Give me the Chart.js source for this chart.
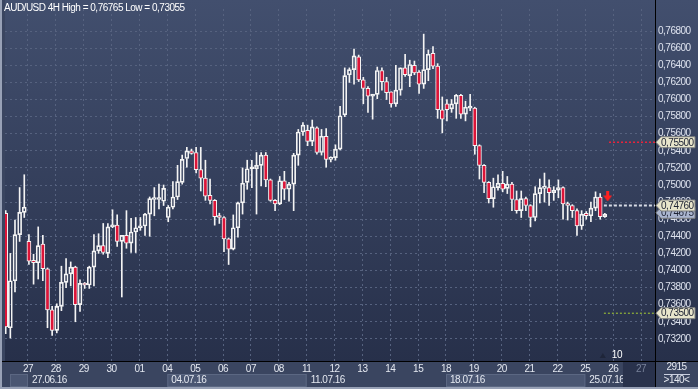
<!DOCTYPE html>
<html>
<head>
<meta charset="utf-8">
<script src="https://cdn.jsdelivr.net/npm/chart.js@4.4.0/dist/chart.umd.min.js"></script>
<style>
    html, body { margin: 0; padding: 0; background: #3a4560; }
    canvas { display: block; }
</style>
</head>
<body>
<canvas id="chart" width="698" height="389"></canvas>
<script>
(function () {

    // Bar 0 is the first 4H bar of 27.06.16, the chart shows a few bars of the week before.
    var START_INDEX = -5;

    var OPEN = [
        0.7467, 0.7333, 0.7388, 0.7442, 0.7468,
        0.7434, 0.7412, 0.7409, 0.7431, 0.7402, 0.7354, 0.7330, 0.7358, 0.7386, 0.7396,
        0.7404, 0.7360, 0.7385, 0.7383, 0.7404, 0.7423, 0.7429, 0.7420, 0.7451, 0.7453,
        0.7434, 0.7441, 0.7432, 0.7445, 0.7450, 0.7452, 0.7466, 0.7483, 0.7483, 0.7481,
        0.7462, 0.7474, 0.7486, 0.7503, 0.7531, 0.7540, 0.7538, 0.7518, 0.7508, 0.7488,
        0.7482, 0.7463, 0.7462, 0.7437, 0.7425, 0.7450, 0.7479, 0.7503, 0.7519, 0.7519,
        0.7523, 0.7535, 0.7506, 0.7482, 0.7478, 0.7505, 0.7495, 0.7501, 0.7535, 0.7562,
        0.7564, 0.7551, 0.7567, 0.7538, 0.7557, 0.7530, 0.7532, 0.7542, 0.7582, 0.7629,
        0.7635, 0.7650, 0.7623, 0.7613, 0.7604, 0.7606, 0.7634, 0.7621, 0.7609, 0.7595,
        0.7611, 0.7637, 0.7628, 0.7640, 0.7632, 0.7618, 0.7635, 0.7654, 0.7639, 0.7588,
        0.7595, 0.7589, 0.7595, 0.7605, 0.7583, 0.7590, 0.7590, 0.7546, 0.7523, 0.7503,
        0.7484, 0.7497, 0.7502, 0.7496, 0.7501, 0.7483, 0.7470, 0.7484, 0.7476, 0.7462,
        0.7490, 0.7496, 0.7497, 0.7491, 0.7494, 0.7497, 0.7478, 0.7476, 0.7470, 0.7452,
        0.7467, 0.7464, 0.7473, 0.7486, 0.7463
    ];
    var HIGH = [
        0.7470, 0.7420, 0.7459, 0.7497, 0.7512,
        0.7442, 0.7419, 0.7451, 0.7441, 0.7403, 0.7358, 0.7361, 0.7405, 0.7414, 0.7410,
        0.7405, 0.7389, 0.7386, 0.7405, 0.7442, 0.7443, 0.7455, 0.7455, 0.7471, 0.7465,
        0.7441, 0.7470, 0.7461, 0.7462, 0.7462, 0.7467, 0.7486, 0.7497, 0.7501, 0.7500,
        0.7476, 0.7504, 0.7523, 0.7535, 0.7544, 0.7542, 0.7544, 0.7544, 0.7529, 0.7507,
        0.7483, 0.7467, 0.7463, 0.7438, 0.7465, 0.7480, 0.7520, 0.7529, 0.7529, 0.7538,
        0.7538, 0.7538, 0.7507, 0.7483, 0.7510, 0.7516, 0.7503, 0.7537, 0.7565, 0.7573,
        0.7570, 0.7576, 0.7568, 0.7565, 0.7566, 0.7533, 0.7547, 0.7592, 0.7637, 0.7637,
        0.7659, 0.7652, 0.7626, 0.7615, 0.7605, 0.7638, 0.7637, 0.7626, 0.7609, 0.7640,
        0.7637, 0.7653, 0.7646, 0.7645, 0.7634, 0.76765, 0.7658, 0.7662, 0.7642, 0.7603,
        0.7600, 0.7600, 0.7606, 0.7606, 0.7598, 0.7606, 0.7591, 0.7547, 0.7524, 0.7504,
        0.7508, 0.7512, 0.7516, 0.7510, 0.7503, 0.7493, 0.7493, 0.7486, 0.7477, 0.7498,
        0.7507, 0.7514, 0.7506, 0.7498, 0.7506, 0.7498, 0.7480, 0.7477, 0.7472, 0.7470,
        0.7469, 0.7480, 0.7492, 0.7490, 0.7467
    ];
    var LOW = [
        0.7326, 0.7321, 0.7375, 0.7434, 0.7462,
        0.7407, 0.7384, 0.7390, 0.7388, 0.7333, 0.7324, 0.7327, 0.7353, 0.7380, 0.7382,
        0.7340, 0.7352, 0.7379, 0.7379, 0.7382, 0.7420, 0.7419, 0.7415, 0.7450, 0.7428,
        0.7369, 0.7426, 0.7421, 0.7421, 0.7447, 0.7441, 0.7440, 0.7464, 0.7472, 0.7476,
        0.7457, 0.7472, 0.7483, 0.7501, 0.7521, 0.7536, 0.7514, 0.7493, 0.7482, 0.7478,
        0.7453, 0.7455, 0.7422, 0.7407, 0.7424, 0.7439, 0.7466, 0.7495, 0.7497, 0.7466,
        0.7499, 0.7498, 0.7481, 0.7470, 0.7477, 0.7483, 0.7481, 0.7470, 0.7523, 0.7558,
        0.7546, 0.7546, 0.7536, 0.7535, 0.7521, 0.7527, 0.7529, 0.7541, 0.7580, 0.7620,
        0.7618, 0.7621, 0.7595, 0.7585, 0.7577, 0.7601, 0.7611, 0.7600, 0.7591, 0.7592,
        0.7605, 0.7627, 0.7615, 0.7629, 0.7607, 0.7613, 0.7622, 0.7636, 0.7578, 0.7561,
        0.7575, 0.7585, 0.7578, 0.7578, 0.7575, 0.7587, 0.7536, 0.7507, 0.7491, 0.7479,
        0.7474, 0.7494, 0.7492, 0.7490, 0.7470, 0.7467, 0.7462, 0.7470, 0.7451, 0.7458,
        0.7479, 0.7480, 0.7476, 0.7482, 0.7485, 0.7460, 0.7459, 0.7462, 0.7441, 0.7448,
        0.7460, 0.7457, 0.7470, 0.7460, 0.7462
    ];
    var CLOSE = [
        0.7334, 0.7388, 0.7442, 0.7468, 0.7474,
        0.7411, 0.7409, 0.7429, 0.7402, 0.7354, 0.7330, 0.7358, 0.7386, 0.7396, 0.7404,
        0.7360, 0.7385, 0.7383, 0.7404, 0.7423, 0.7429, 0.7421, 0.7451, 0.7453, 0.7434,
        0.7441, 0.7432, 0.7445, 0.7450, 0.7452, 0.7466, 0.7484, 0.7485, 0.7485, 0.7496,
        0.7474, 0.7486, 0.7504, 0.7530, 0.7540, 0.7537, 0.7518, 0.7508, 0.7487, 0.7482,
        0.7463, 0.7462, 0.7437, 0.7425, 0.7450, 0.7479, 0.7502, 0.7519, 0.7520, 0.7523,
        0.7535, 0.7506, 0.7482, 0.7478, 0.7505, 0.7495, 0.7501, 0.7535, 0.7562, 0.7570,
        0.7551, 0.7568, 0.7538, 0.7557, 0.7530, 0.7532, 0.7542, 0.7581, 0.7628, 0.7635,
        0.7651, 0.7623, 0.7613, 0.7604, 0.7606, 0.7634, 0.7621, 0.7608, 0.7595, 0.7611,
        0.7637, 0.7629, 0.7641, 0.7631, 0.7618, 0.7635, 0.7653, 0.7639, 0.7588, 0.7577,
        0.7588, 0.7595, 0.7605, 0.7583, 0.7591, 0.7591, 0.7546, 0.7523, 0.7503, 0.7484,
        0.7498, 0.7502, 0.7495, 0.7501, 0.7483, 0.7470, 0.7484, 0.7476, 0.7462, 0.7490,
        0.7497, 0.7498, 0.7491, 0.7494, 0.7497, 0.7478, 0.7476, 0.7470, 0.7452, 0.7466,
        0.7464, 0.7473, 0.7486, 0.7463, 0.7466
    ];

    var DAY_LABELS = ['27', '28', '29', '30', '01', '04', '05', '06', '07', '08', '11', '12',
        '13', '14', '15', '18', '19', '20', '21', '22', '25', '26', '27'];
    var WEEK_DAYS = [-5, 0, 5, 10, 15, 20];
    var WEEK_LABELS = ['20.06.16', '27.06.16', '04.07.16', '11.07.16', '18.07.16', '25.07.16'];
    var Y_TICKS = [0.732, 0.734, 0.736, 0.738, 0.740, 0.742, 0.744, 0.746, 0.748, 0.750,
        0.752, 0.754, 0.756, 0.758, 0.760, 0.762, 0.764, 0.766, 0.768];

    // Horizontal levels on the right edge, and the current bid.
    var LEVELS = [0.7550, 0.7476, 0.7350];
    var LEVEL_FROM = [124.9, 123.8, 123.8];
    var LEVEL_COLORS = ['#e8243c', '#d6dae4', '#a6cf34'];
    var LEVEL_DASH = [[2, 2], [3, 2], [2, 2]];
    var LEVEL_WIDTH = [1.5, 2, 1];
    var BID = 0.74675;
    var SIGNAL = { x: 124.6, y: 0.74866 };
    var MARK_X = 124;

    var TITLE = 'AUD/USD 4H High = 0,76765 Low = 0,73055';
    var BARS_PER_DAY = 6;
    var DAY_SHIFT = -0.2;
    var X_MIN = -5.15, X_MAX = 134.8;
    var Y_MIN = 0.72941, Y_MAX = 0.77059;
    var FUTURE_START = 127.9;

    // The terminal font is a narrow one; a tightened Liberation Sans stands in for it.
    var FONT = "'Liberation Sans', Arial, sans-serif";
    var FONT_SIZE = 10;
    var TRACKING = '-0.5px';
    var BEAR = '#dc1438';
    var WHITE = '#f4f4f4';
    var GRID = '#56627f';

    /**
     * Position of a day boundary on the bar axis.
     */
    function dayPos(day) {
        return day * BARS_PER_DAY + DAY_SHIFT;
    }

    function fmt(v) {
        return v.toFixed(5).replace('.', ',');
    }

    /**
     * Builds the floating bars for bodies and wicks.
     */
    var bodies = [], bodyColors = [], upper = [], lower = [];
    var i, x, top, bottom;
    for (i = 0; i < OPEN.length; i++) {
        x = START_INDEX + i;
        top = Math.max(OPEN[i], CLOSE[i]);
        bottom = Math.min(OPEN[i], CLOSE[i]);
        bodies.push({ x: x, y: [OPEN[i], CLOSE[i]] });
        bodyColors.push(CLOSE[i] < OPEN[i] ? BEAR : 'rgba(0,0,0,0)');
        upper.push({ x: x, y: [top, HIGH[i]] });
        lower.push({ x: x, y: [LOW[i], bottom] });
    }

    // Small red sell arrow used as a point style.
    var arrow = document.createElement('canvas');
    arrow.width = 9;
    arrow.height = 10;
    var a = arrow.getContext('2d');
    a.fillStyle = '#ff2020';
    a.fillRect(3, 0, 3, 5);
    a.beginPath();
    a.moveTo(0, 4);
    a.lineTo(9, 4);
    a.lineTo(4.5, 10);
    a.closePath();
    a.fill();

    var datasets = [{
        type: 'line',
        data: [SIGNAL],
        showLine: false,
        pointStyle: arrow,
        order: 0
    }];
    for (i = 0; i < LEVELS.length; i++) {
        datasets.push({
            type: 'line',
            data: [{ x: LEVEL_FROM[i], y: LEVELS[i] }, { x: X_MAX, y: LEVELS[i] }],
            borderColor: LEVEL_COLORS[i],
            borderWidth: LEVEL_WIDTH[i],
            borderDash: LEVEL_DASH[i],
            pointRadius: 0,
            order: 1
        });
    }
    datasets.push({
        data: bodies,
        backgroundColor: bodyColors,
        borderColor: WHITE,
        borderWidth: 1,
        borderSkipped: false,
        barThickness: 4,
        minBarLength: 2,
        grouped: false,
        order: 2
    });
    datasets.push({
        data: upper, backgroundColor: WHITE, borderWidth: 0,
        barThickness: 1, grouped: false, order: 3
    });
    datasets.push({
        data: lower, backgroundColor: WHITE, borderWidth: 0,
        barThickness: 1, grouped: false, order: 3
    });

    function tag(ctx, x, y, text, bg) {
        ctx.beginPath();
        ctx.moveTo(x, y);
        ctx.lineTo(x + 5, y - 5.5);
        ctx.lineTo(x + 39, y - 5.5);
        ctx.lineTo(x + 39, y + 5.5);
        ctx.lineTo(x + 5, y + 5.5);
        ctx.closePath();
        ctx.fillStyle = bg;
        ctx.fill();
        ctx.strokeStyle = '#7d7f80';
        ctx.lineWidth = 1;
        ctx.stroke();
        ctx.fillStyle = '#1d2233';
        ctx.fillText(text, x + 5, y + 0.5);
    }

    function setText(ctx) {
        ctx.font = FONT_SIZE + 'px ' + FONT;
        ctx.letterSpacing = TRACKING;
        ctx.textBaseline = 'middle';
        ctx.textAlign = 'left';
    }

    /**
     * Panels, week strip, price tags and captions around the plot.
     */
    var decor = {
        id: 'decor',
        beforeDraw: function (chart) {
            var ctx = chart.ctx, area = chart.chartArea, xs = chart.scales.x;
            var grad, w, x0, x1, bx, stripTop = area.bottom + 13;
            ctx.save();
            ctx.fillStyle = '#3a4560';
            ctx.fillRect(0, 0, chart.width, chart.height);
            grad = ctx.createLinearGradient(0, 0, 0, area.bottom);
            grad.addColorStop(0, '#424f6e');
            grad.addColorStop(1, '#27304a');
            ctx.fillStyle = grad;
            ctx.fillRect(area.left, 0, chart.width - area.left, area.bottom);

            setText(ctx);
            for (w = 0; w < WEEK_LABELS.length; w++) {
                x0 = xs.getPixelForValue(dayPos(WEEK_DAYS[w]));
                x1 = xs.getPixelForValue(dayPos(WEEK_DAYS[w] + 5));
                if (w % 2 === 0) {
                    bx = Math.max(x0, area.left + 5);
                    ctx.fillStyle = '#4a5672';
                    ctx.fillRect(bx, stripTop, x1 - bx, 13);
                    ctx.strokeStyle = '#5b6782';
                    ctx.strokeRect(bx + 0.5, stripTop + 0.5, x1 - bx - 1, 12);
                }
                if (x0 >= area.left) {
                    ctx.fillStyle = '#e4e8f0';
                    ctx.fillText(WEEK_LABELS[w], x0 + 4, stripTop + 6.5);
                }
            }
            x0 = xs.getPixelForValue(FUTURE_START);
            ctx.fillStyle = '#29324c';
            ctx.fillRect(x0, area.bottom, area.right - x0, chart.height - area.bottom - 2);
            ctx.restore();
            // tick labels drawn by the scales pick up the tighter tracking too
            ctx.letterSpacing = TRACKING;
        },
        afterDraw: function (chart) {
            var ctx = chart.ctx, area = chart.chartArea, xs = chart.scales.x, ys = chart.scales.y;
            var mx, my;
            ctx.save();
            ctx.fillStyle = '#000000';
            ctx.fillRect(area.right, 0, 1, chart.height);
            ctx.fillRect(0, area.bottom, chart.width, 1);
            ctx.fillStyle = '#98a1b6';
            ctx.fillRect(0, 0, 2, chart.height);
            ctx.fillRect(0, chart.height - 2, chart.width, 2);

            setText(ctx);
            ctx.fillStyle = '#ffffff';
            ctx.fillText(TITLE, 4, 8);

            tag(ctx, area.right + 1, ys.getPixelForValue(LEVELS[0]), fmt(LEVELS[0]), '#e8e5cb');
            tag(ctx, area.right + 1, ys.getPixelForValue(BID), fmt(BID), '#aab5cf');
            tag(ctx, area.right + 1, ys.getPixelForValue(LEVELS[1]), fmt(LEVELS[1]), '#e8e5cb');
            tag(ctx, area.right + 1, ys.getPixelForValue(LEVELS[2]), fmt(LEVELS[2]), '#e8e5cb');

            // bar counter near the bottom
            mx = xs.getPixelForValue(MARK_X);
            my = area.bottom - 6;
            ctx.fillStyle = '#1e2539';
            ctx.beginPath();
            ctx.moveTo(mx - 5, my + 3);
            ctx.lineTo(mx + 1, my + 3);
            ctx.lineTo(mx - 2, my - 2);
            ctx.closePath();
            ctx.fill();
            ctx.fillStyle = '#ffffff';
            ctx.fillText('10', mx + 7, my);

            // corner box
            ctx.textAlign = 'center';
            ctx.fillStyle = '#e4e8f0';
            ctx.fillText('2915', (area.right + chart.width) / 2, area.bottom + 6.5);
            ctx.fillText('>140<', (area.right + chart.width) / 2, area.bottom + 19.5);
            ctx.fillStyle = '#c9cfdf';
            ctx.fillRect(area.right + 9, area.bottom + 13, 26, 1);
            ctx.restore();
        }
    };

    Chart.defaults.font.family = FONT;
    Chart.defaults.font.size = FONT_SIZE;

    new Chart(document.getElementById('chart'), {
        type: 'bar',
        data: { datasets: datasets },
        options: {
            responsive: false,
            animation: false,
            devicePixelRatio: 1,
            layout: { padding: { left: 2, top: 0, right: 0, bottom: 0 } },
            plugins: { legend: { display: false }, tooltip: { enabled: false } },
            scales: {
                x: {
                    type: 'linear',
                    min: X_MIN,
                    max: X_MAX,
                    offset: false,
                    afterBuildTicks: function (scale) {
                        scale.ticks = DAY_LABELS.map(function (l, d) {
                            return { value: dayPos(d) };
                        });
                    },
                    afterFit: function (scale) {
                        scale.height = 28;
                    },
                    grid: { color: GRID, drawTicks: false, offset: false },
                    border: { display: false, dash: [2, 3] },
                    ticks: {
                        autoSkip: false,
                        maxRotation: 0,
                        padding: 2,
                        color: function (c) {
                            return c.index === DAY_LABELS.length - 1 ? '#78829a' : '#e4e8f0';
                        },
                        callback: function (v, idx) {
                            return DAY_LABELS[idx];
                        }
                    }
                },
                y: {
                    type: 'linear',
                    position: 'right',
                    min: Y_MIN,
                    max: Y_MAX,
                    afterBuildTicks: function (scale) {
                        scale.ticks = Y_TICKS.map(function (v) {
                            return { value: v };
                        });
                    },
                    afterFit: function (scale) {
                        scale.width = 43;
                    },
                    grid: { color: GRID, drawTicks: false },
                    border: { display: false, dash: [2, 3] },
                    ticks: {
                        autoSkip: false,
                        padding: 3,
                        color: '#dde2ee',
                        callback: function (v) {
                            return fmt(v);
                        }
                    }
                }
            }
        },
        plugins: [decor]
    });

})();
</script>
</body>
</html>
